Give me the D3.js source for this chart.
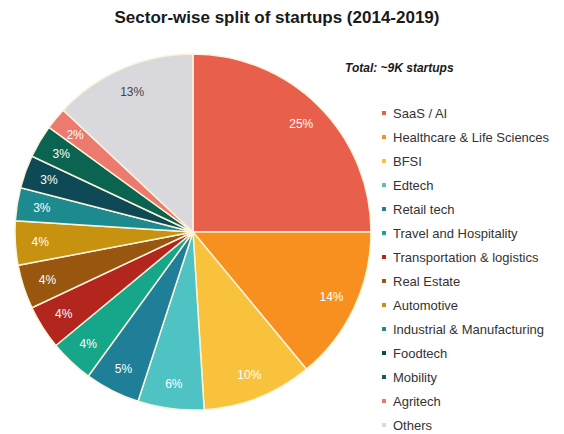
<!DOCTYPE html>
<html>
<head>
<meta charset="utf-8">
<script src="https://cdn.jsdelivr.net/npm/d3@7"></script>
<style>
  body { margin: 0; background: #fff; }
  text { font-family: "Liberation Sans", Arial, sans-serif; }
</style>
</head>
<body>
<div id="chart"></div>
<script>
var sectors = ['SaaS / AI', 'Healthcare & Life Sciences', 'BFSI', 'Edtech', 'Retail tech',
  'Travel and Hospitality', 'Transportation & logistics', 'Real Estate', 'Automotive',
  'Industrial & Manufacturing', 'Foodtech', 'Mobility', 'Agritech', 'Others'];
var shares = [25, 14, 10, 6, 5, 4, 4, 4, 4, 3, 3, 3, 2, 13];
var sliceColors = ['#e8604c', '#f7901e', '#f8c23c', '#4fc3c4', '#1f7f98', '#16a78b', '#b2261d',
  '#98560f', '#c6920f', '#1d8a8f', '#0e4a55', '#0b6450', '#ec7a6e', '#d9d9dd'];

function drawPie() {
  var width = 564, height = 434
    , cx = 193, cy = 232
    , radius = 178;

  var svg = d3.select('#chart')
              .append('svg')
              .attr('width', width)
              .attr('height', height);

  svg.append('text')
    .text('Sector-wise split of startups (2014-2019)')
    .attr('x', 277)
    .attr('y', 23)
    .attr('text-anchor', 'middle')
    .style('font-size', '17px')
    .style('font-weight', 'bold')
    .style('fill', '#1a1a1a');

  svg.append('text')
    .text('Total: ~9K startups')
    .attr('x', 345)
    .attr('y', 72)
    .style('font-size', '12px')
    .style('font-weight', 'bold')
    .style('font-style', 'italic')
    .style('fill', '#1a1a1a');

  var pie = d3.pie().sort(null).value(function (d) { return d; });
  var arc = d3.arc().innerRadius(0).outerRadius(radius);
  var labelArc = d3.arc().innerRadius(radius * 0.86).outerRadius(radius * 0.86);

  var g = svg.append('g')
    .attr('transform', 'translate(' + [cx, cy] + ')');

  var slices = g.selectAll('g')
    .data(pie(shares))
    .enter()
    .append('g');

  slices.append('path')
    .attr('d', arc)
    .attr('fill', function (d, i) { return sliceColors[i]; })
    .attr('stroke', '#fbf3dc')
    .attr('stroke-width', 1.5);

  slices.append('text')
    .text(function (d) { return d.data + '%'; })
    .attr('transform', function (d) { return 'translate(' + labelArc.centroid(d) + ')'; })
    .attr('text-anchor', 'middle')
    .attr('dy', '0.35em')
    .style('font-size', '12px')
    .style('fill', function (d, i) { return i == 13 ? '#444' : '#fff'; });

  // legend
  var y = d3.scalePoint().domain(sectors).range([113, 425]);
  var legend = svg.selectAll('.leg')
    .data(sectors)
    .enter()
    .append('g')
    .attr('class', 'leg')
    .attr('transform', function (d) { return 'translate(' + [384, y(d)] + ')'; });

  legend.append('rect')
    .attr('x', -2).attr('y', -2)
    .attr('width', 4).attr('height', 4)
    .attr('fill', function (d, i) { return sliceColors[i]; });

  legend.append('text')
    .text(function (d) { return d; })
    .attr('x', 9)
    .attr('dy', '0.35em')
    .style('font-size', '13px')
    .style('fill', '#333');
}
drawPie();
</script>
</body>
</html>
